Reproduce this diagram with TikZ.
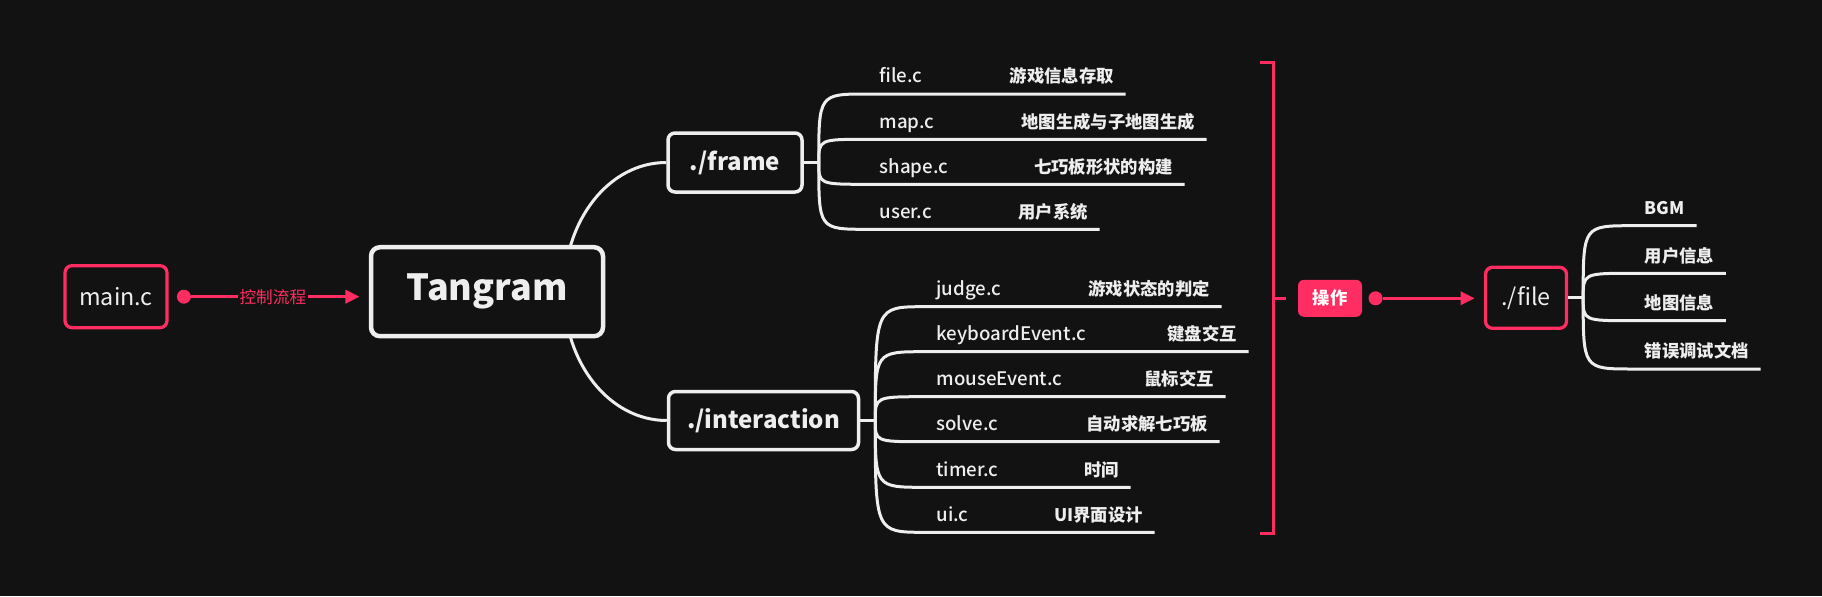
\documentclass[tikz,border=0pt]{standalone}
\usepackage{fontspec}
\setmainfont{Noto Sans CJK SC}
\newfontfamily\medfont{Noto Sans CJK SC Medium}
\usepackage{tikz}
\usetikzlibrary{arrows.meta,positioning,backgrounds}
\definecolor{bgdark}{HTML}{121212}
\definecolor{rosered}{HTML}{FF2D61}
\definecolor{chalk}{HTML}{EEEEEE}
\newdimen\pxu \pxu=0.75pt
\tikzset{
  hub/.style={draw=chalk, line width=3.5\pxu, rounded corners=7\pxu, fill=bgdark, text=chalk,
              inner sep=0pt, font=\fontsize{18}{21}\selectfont\bfseries},
  root/.style={hub, line width=4.5\pxu, rounded corners=9\pxu, minimum width=232\pxu,
               minimum height=89\pxu, font=\fontsize{27}{31}\selectfont\bfseries},
  srcbox/.style={draw=rosered, line width=3.3\pxu, rounded corners=7\pxu, fill=bgdark, text=chalk,
                 inner sep=0pt, font=\fontsize{17.5}{21}\selectfont},
  tagbox/.style={fill=rosered, rounded corners=6\pxu, text=white, inner sep=0pt, minimum width=64\pxu,
                 minimum height=37\pxu, font=\fontsize{13}{15}\selectfont\bfseries},
  dot/.style={circle, fill=rosered, inner sep=0pt, minimum size=14\pxu},
  leaf/.style={anchor=south west, inner xsep=11.5\pxu, inner ysep=11\pxu, text depth=0pt, align=left,
               text=chalk, font=\fontsize{14}{17}\selectfont\medfont},
  tip/.style={leaf, font=\fontsize{13}{15}\selectfont\bfseries},
  trunk/.style={draw=chalk, line width=3\pxu},
  branch/.style={trunk, to path={.. controls (\tikztostart |- \tikztotarget) .. (\tikztotarget) \tikztonodes}},
  flow/.style={draw=rosered, line width=2pt, shorten >=7pt, -{Triangle[length=10.5pt, width=10pt]}},
  brace/.style={draw=rosered, line width=3\pxu},
}
\newcommand{\zhb}[1]{{\fontsize{13}{15}\selectfont\normalfont\bfseries #1}}

\begin{document}
\begin{tikzpicture}[x=0.75pt, y=-0.75pt]
  \path[use as bounding box] (0,0) rectangle (1822,596);
  \node[srcbox, minimum width=102\pxu, minimum height=62\pxu] (main) at (116,296.7) {main.c};
  \node[dot, right=8\pxu of main] (d1) {};
  \node[root] (tg) at (487,291.7) {Tangram};
  \node[hub, minimum width=134\pxu, minimum height=59\pxu] (fr) at (735,162.5) {./frame};
  \node[hub, minimum width=190\pxu, minimum height=58\pxu] (ia) at (763.5,420.5) {./interaction};
  \coordinate[right=15\pxu of fr] (fj);
  \coordinate[right=15\pxu of ia] (ij);
  \coordinate (tgj) at (564,291.7);
  % ./frame
  \node[leaf, text width=234.3\pxu] (fr1) at (867.7,94) {file.c\hfill\zhb{游戏信息存取}};
  \node[leaf, text width=315.3\pxu] (fr2) at (867.7,139.3) {map.c\hfill\zhb{地图生成与子地图生成}};
  \node[leaf, text width=293.3\pxu] (fr3) at (867.7,184.3) {shape.c\hfill\zhb{七巧板形状的构建}};
  \node[leaf, text width=208.3\pxu] (fr4) at (867.7,229.3) {user.c\hfill\zhb{用户系统}};
  % ./interaction
  \node[leaf, text width=273.3\pxu] (ia1) at (924.7,306.7) {judge.c\hfill\zhb{游戏状态的判定}};
  \node[leaf, text width=300.3\pxu] (ia2) at (924.7,351.7) {keyboardEvent.c\hfill\zhb{键盘交互}};
  \node[leaf, text width=277.3\pxu] (ia3) at (924.7,396.7) {mouseEvent.c\hfill\zhb{鼠标交互}};
  \node[leaf, text width=271.3\pxu] (ia4) at (924.7,441.7) {solve.c\hfill\zhb{自动求解七巧板}};
  \node[leaf, text width=182.3\pxu] (ia5) at (924.7,487.3) {timer.c\hfill\zhb{时间}};
  \node[leaf, text width=206.3\pxu] (ia6) at (924.7,532.3) {ui.c\hfill\zhb{UI界面设计}};
  % bracket + ./file
  \coordinate (bt) at (1273.2,62.3);
  \coordinate (bb) at (1273.2,533.3);
  \node[tagbox] (op) at (1330,298.3) {操作};
  \node[dot, right=6\pxu of op] (d2) {};
  \node[srcbox, minimum width=81\pxu, minimum height=61\pxu] (fl) at (1526,297.8) {./file};
  \coordinate[right=15\pxu of fl] (flj);
  \node[tip] (fl1) at (1633,225.7) {BGM};
  \node[tip] (fl2) at (1633,273.3) {用户信息};
  \node[tip] (fl3) at (1633,320.7) {地图信息};
  \node[tip] (fl4) at (1633,369) {错误调试文档};

  \begin{scope}[on background layer]
    \fill[bgdark] (0,0) rectangle (1822,596);
    \draw[trunk] (tgj) .. controls +(0,-72) and +(-57,0) .. (fr.west);
    \draw[trunk] (tgj) .. controls +(0,72) and +(-57,0) .. (ia.west);
  \end{scope}

  \draw[flow] (d1) -- node[pos=0.46, fill=bgdark, text=rosered, inner xsep=1pt,
    font=\fontsize{12.5}{14}\selectfont] (ctl) {控制流程} (tg.west |- d1);
  \draw[trunk] (fr) -- (fj);
  \draw[branch] (fj) to (fr1.south west) -- (fr1.south east);
  \draw[branch] (fj) to (fr2.south west) -- (fr2.south east);
  \draw[branch] (fj) to (fr3.south west) -- (fr3.south east);
  \draw[branch] (fj) to (fr4.south west) -- (fr4.south east);
  \draw[trunk] (ia) -- (ij);
  \draw[branch] (ij) to (ia1.south west) -- (ia1.south east);
  \draw[branch] (ij) to (ia2.south west) -- (ia2.south east);
  \draw[branch] (ij) to (ia3.south west) -- (ia3.south east);
  \draw[branch] (ij) to (ia4.south west) -- (ia4.south east);
  \draw[branch] (ij) to (ia5.south west) -- (ia5.south east);
  \draw[branch] (ij) to (ia6.south west) -- (ia6.south east);
  \draw[brace] ([xshift=-13.6\pxu]bt) -- (bt) -- (bb) -- ([xshift=-13.6\pxu]bb);
  \draw[brace] (bt |- op) -- ++(13,0);
  \draw[flow] (d2) -- (fl.west |- d2);
  \draw[trunk] (fl) -- (flj);
  \draw[branch] (flj) to (fl1.south west) -- (fl1.south east);
  \draw[branch] (flj) to (fl2.south west) -- (fl2.south east);
  \draw[branch] (flj) to (fl3.south west) -- (fl3.south east);
  \draw[branch] (flj) to (fl4.south west) -- (fl4.south east);
\end{tikzpicture}
\end{document}
